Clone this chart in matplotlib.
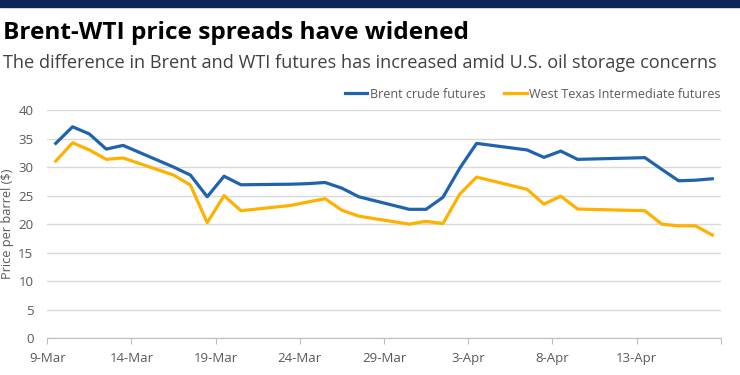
import matplotlib
matplotlib.use("Agg")
import matplotlib.pyplot as plt
from matplotlib.patches import Rectangle
import pandas as pd

dates = ["2020-03-09", "2020-03-10", "2020-03-11", "2020-03-12", "2020-03-13",
         "2020-03-16", "2020-03-17", "2020-03-18", "2020-03-19", "2020-03-20",
         "2020-03-23", "2020-03-24", "2020-03-25", "2020-03-26", "2020-03-27",
         "2020-03-30", "2020-03-31", "2020-04-01", "2020-04-02", "2020-04-03",
         "2020-04-06", "2020-04-07", "2020-04-08", "2020-04-09",
         "2020-04-13", "2020-04-14", "2020-04-15", "2020-04-16", "2020-04-17"]
brent = [34.15, 37.06, 35.8, 33.15, 33.8,
         30.0, 28.6, 24.8, 28.4, 26.9,
         27.0, 27.1, 27.3, 26.3, 24.8,
         22.6, 22.6, 24.7, 29.8, 34.15,
         33.0, 31.7, 32.8, 31.35,
         31.65, 29.6, 27.6, 27.7, 27.95]
wti = [31.05, 34.26, 33.0, 31.35, 31.6,
       28.6, 26.85, 20.25, 25.0, 22.35,
       23.3, 23.9, 24.45, 22.45, 21.4,
       20.0, 20.5, 20.1, 25.25, 28.25,
       26.1, 23.5, 24.9, 22.65,
       22.35, 20.0, 19.7, 19.7, 18.1]
tick_labels = ["9-Mar", "14-Mar", "19-Mar", "24-Mar", "29-Mar", "3-Apr", "8-Apr", "13-Apr"]
series_names = ["Brent crude futures", "West Texas Intermediate futures"]

start = pd.Timestamp("2020-03-09")
xs = [(pd.Timestamp(d) - start).days + 0.5 for d in dates]

FONT = ["Open Sans", "DejaVu Sans"]
plt.rcParams["font.family"] = FONT
GRAY = "#595959"

fig = plt.figure(figsize=(7.4, 3.75), dpi=100)
fig.patch.set_facecolor("white")
fig.add_artist(Rectangle((0, 1 - 7 / 375), 1, 7 / 375, transform=fig.transFigure,
                         color="#0b2559", zorder=5))
fig.text(3 / 740, 1 - 33 / 375, "Brent-WTI price spreads have widened", fontsize=17.6,
         fontweight="bold", color="black", va="center", ha="left")
fig.text(3 / 740, 1 - 63.5 / 375,
         "The difference in Brent and WTI futures has increased amid U.S. oil storage concerns",
         fontsize=13.1, color="#404040", va="center", ha="left")

ax = fig.add_axes([47.3 / 740, (375 - 338.3) / 375, 673.4 / 740, 228.3 / 375])
ax.plot(xs, brent, color="#1f63ad", lw=2.3, label=series_names[0], solid_joinstyle="round")
ax.plot(xs, wti, color="#ffb000", lw=2.3, label=series_names[1], solid_joinstyle="round")

ax.set_xlim(0, 40)
ax.set_ylim(0, 40)
ax.set_yticks(range(0, 41, 5))
ax.set_xticks(list(range(0, 41, 5)))
ax.set_xticklabels(tick_labels + [""])
ax.grid(axis="y", color="#d9d9d9", lw=1)
ax.set_axisbelow(True)
for s in ["top", "right", "left"]:
    ax.spines[s].set_visible(False)
ax.spines["bottom"].set_color("#bfbfbf")
ax.tick_params(axis="x", length=4, color="#bfbfbf", labelsize=9.5, labelcolor=GRAY, pad=6)
ax.tick_params(axis="y", length=0, labelsize=9.5, labelcolor=GRAY, pad=10)
ax.set_ylabel("Price per barrel ($)", fontsize=9.2, color=GRAY)
ax.yaxis.set_label_coords(-0.0495, 0.5)

leg = ax.legend(loc="lower right", bbox_to_anchor=(1.0, 1.04), ncol=2, frameon=False,
                fontsize=9.0, handlelength=1.8, handletextpad=0.2, columnspacing=1.5,
                borderaxespad=0, borderpad=0)
for t in leg.get_texts():
    t.set_color(GRAY)

fig.savefig("out.png", dpi=100)
